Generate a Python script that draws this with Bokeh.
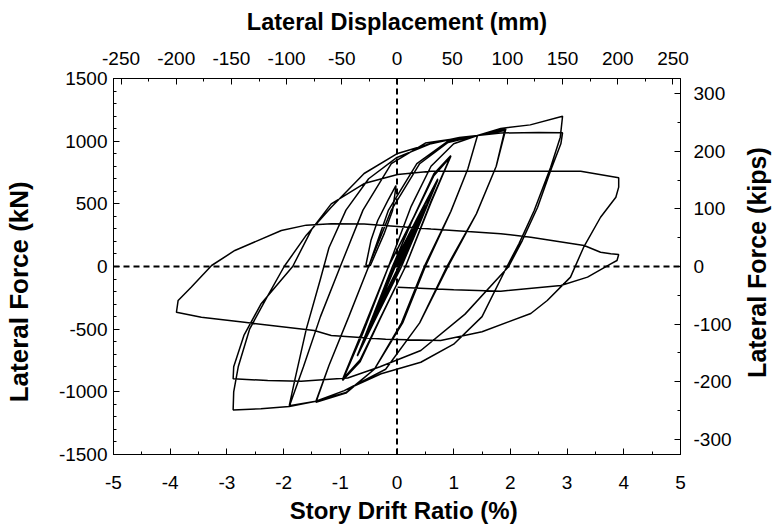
import math
from bokeh.plotting import figure
from bokeh.layouts import row
from bokeh.models import Range1d, LinearAxis, SingleIntervalTicker, Span, PrintfTickFormatter, Label
from bokeh.embed import file_html
from bokeh.resources import INLINE

# ---------------- data (story drift %, lateral force kN) ----------------
c0375_x = [0.00, 0.37, 0.03, -0.37, -0.03, 0.38, 0.03, -0.38, -0.03, 0.37, 0.03, -0.37, -0.03,
           0.38, 0.03, -0.38, -0.03, 0.37, 0.03, -0.37, -0.03, 0.38, 0.03, -0.38, -0.03]
c0375_y = [0, 355, 0, -365, 0, 365, 0, -375, 0, 350, 0, -360, 0,
           360, 0, -370, 0, 355, 0, -365, 0, 360, 0, -372, 0]

c05_x = [0.25, 0.50, 0.28, 0.05, -0.25, -0.50, -0.28, -0.05, 0.25, 0.50, 0.28, 0.05, -0.25, -0.50, -0.28, -0.05,
         0.25, 0.49, 0.28, 0.05, -0.25, -0.49, -0.28, -0.05, 0.25, 0.50, 0.28, 0.05, -0.25, -0.50, -0.28, -0.05]
c05_y = [270, 490, 250, 0, -275, -505, -255, 0, 265, 485, 245, 0, -270, -500, -250, 0,
         265, 478, 245, 0, -270, -495, -250, 0, 262, 482, 242, 0, -268, -498, -248, 0]

c075_x = [0.35, 0.72, 0.40, 0.08, -0.35, -0.70, -0.40, -0.08, 0.35, 0.72, 0.40, 0.08, -0.35, -0.69, -0.40, -0.08,
          0.35, 0.71, 0.40, 0.08, -0.35, -0.70, -0.40, -0.08, 0.35, 0.71, 0.40, 0.08, -0.35, -0.69, -0.40, -0.08]
c075_y = [380, 700, 360, 0, -390, -715, -380, 0, 380, 690, 350, 0, -390, -705, -370, 0,
          375, 685, 345, 0, -385, -710, -375, 0, 372, 680, 342, 0, -382, -700, -368, 0]

c1_x = [0.30, 0.65, 0.95, 0.60, 0.15, -0.30, -0.65, -0.96, -0.60, -0.15, 0.30, 0.65, 0.95, 0.60, 0.15, -0.30, -0.65, -0.96,
        -0.60, -0.15, 0.30, 0.65, 0.94, 0.60, 0.15, -0.30, -0.65, -0.96]
c1_y = [400, 740, 885, 520, 0, -420, -760, -910, -530, 0, 400, 730, 880, 515, 0, -420, -750, -905,
        -525, 0, 395, 725, 872, 510, 0, -415, -745, -900]

d15_x = [-0.55, -0.15, 0.25, 0.60, 1.00, 1.42, 1.25, 0.95, 0.50, 0.10, -0.40, -0.90, -1.43,
         -1.20, -0.85, -0.50, -0.10, 0.40, 0.90, 1.42, 1.25, 0.95, 0.48, 0.08, -0.40, -0.90, -1.43]
d15_y = [-450, 0, 480, 800, 980, 1045, 780, 440, 0, -450, -820, -1010, -1083,
         -790, -400, 0, 450, 820, 990, 1045, 780, 440, 0, -450, -820, -1005, -1075]

d2_x = [-1.20, -0.85, -0.50, -0.15, 0.35, 0.90, 1.42, 1.92, 1.75, 1.40, 0.90, 0.40, -0.20, -0.93, -1.43, -1.90,
        -1.65, -1.35, -1.00, -0.60, -0.10, 0.50, 1.42, 1.90, 1.75, 1.40, 0.88, 0.40, -0.20, -0.93, -1.43, -1.90]
d2_y = [-790, -400, 0, 450, 820, 1000, 1045, 1099, 800, 420, 0, -450, -820, -990, -1075, -1117,
        -800, -400, 0, 450, 820, 985, 1045, 1085, 800, 420, 0, -450, -820, -990, -1075, -1110]

d3a_x = [-1.80, -1.60, -1.35, -1.20, -0.90, -0.50, 0.00, 0.60, 1.00, 1.42, 1.83, 2.35, 2.92,
         2.88, 2.71, 2.42, 2.15, 1.94, 1.50, 1.00, 0.42, -0.28, -0.93, -1.43, -1.90, -2.40, -2.89]
d3a_y = [-900, -500, -100, 150, 450, 700, 870, 980, 1020, 1045, 1101, 1130, 1199,
         1032, 792, 447, 181, 0, -400, -620, -764, -856, -990, -1075, -1117, -1135, -1144]

d3b_x = [-2.88, -2.80, -2.60, -2.30, -1.99, -1.60, -1.16, -0.58, 0.01, 0.60, 1.10, 1.42, 1.83, 2.50, 2.92,
         2.89, 2.71, 2.48, 2.21, 1.97, 1.20, 0.42, -0.30, -0.87, -1.69, -2.28, -2.89]
d3b_y = [-1000, -800, -500, -250, 0, 250, 473, 742, 902, 981, 1030, 1045, 1065, 1070, 1067,
         979, 766, 473, 207, 0, -380, -670, -800, -890, -915, -910, -896]

d4_x = [-2.88, -2.70, -2.40, -1.84, -1.50, -1.16, -0.58, 0.01, 0.60, 1.83, 3.24, 3.91,
        3.91, 3.86, 3.59, 3.29, 3.06, 2.65, 2.36, 1.50, 0.77, -0.20, -1.16, -1.46, -2.69, -3.45, -3.89,
        -3.86, -3.63, -3.27, -2.86, -2.04, -1.60, -1.16, -0.58, 0.60, 1.83, 2.36, 3.30, 3.59, 3.77, 3.91,
        3.88, 3.77, 3.36, 2.89, 1.83, 1.00, 0.01]
d4_y = [-800, -550, -300, 0, 300, 500, 662, 734, 760, 760, 760, 708,
        633, 553, 393, 152, -85, -271, -375, -520, -590, -580, -551, -511, -445, -405, -365,
        -271, -165, 8, 128, 287, 330, 341, 340, 300, 261, 234, 168, 114, 101, 96,
        48, 21, -85, -152, -197, -185, -165]

leaf_x = [-0.55, -0.46, -0.34, -0.16, -0.02, -0.02, -0.08, -0.23, -0.41, -0.47, -0.55]
leaf_y = [8, 207, 367, 527, 646, 630, 444, 258, 71, 8, 8]

# top axis: lateral displacement (mm) per % drift; right axis: kN per kip
MM_PER_PCT = 51.36
KN_PER_KIP = 4.6

path_x = c0375_x + c05_x + c075_x + c1_x + d15_x + d2_x + d3a_x + d3b_x + d4_x
path_y = c0375_y + c05_y + c075_y + c1_y + d15_y + d2_y + d3a_y + d3b_y + d4_y

FONT = "Liberation Sans"
NB = "\u00a0"
SIDE_W = 38

p = figure(width=773 - SIDE_W, height=527, x_range=Range1d(-5, 5), y_range=Range1d(-1500, 1500),
           output_backend="svg", toolbar_location=None,
           min_border_left=112, min_border_right=93 - SIDE_W, min_border_top=78, min_border_bottom=73,
           extra_x_ranges={"mm": Range1d(-5 * MM_PER_PCT, 5 * MM_PER_PCT)},
           extra_y_ranges={"kips": Range1d(-1500 / KN_PER_KIP, 1500 / KN_PER_KIP)})
p.xgrid.visible = False
p.ygrid.visible = False
p.outline_line_color = "black"
p.outline_line_width = 1
p.background_fill_color = "white"
p.border_fill_color = "white"

bottom = p.below[0]
left = p.left[0]
bottom.ticker = SingleIntervalTicker(interval=1, num_minor_ticks=2)
bottom.axis_label = NB * 2 + "Story Drift Ratio (%)"
left.ticker = SingleIntervalTicker(interval=500, num_minor_ticks=5)
left.axis_label = "Lateral Force (kN)" + NB * 7

top = LinearAxis(x_range_name="mm", ticker=SingleIntervalTicker(interval=50, num_minor_ticks=2),
                 axis_label="Lateral Displacement (mm)")
p.add_layout(top, "above")
right = LinearAxis(y_range_name="kips", ticker=SingleIntervalTicker(interval=100, num_minor_ticks=2))
p.add_layout(right, "right")

for ax in [bottom, left, top, right]:
    ax.formatter = PrintfTickFormatter(format="%d")
    ax.axis_line_color = "black"
    ax.major_tick_line_color = "black"
    ax.minor_tick_line_color = "black"
    ax.major_tick_in = 6
    ax.major_tick_out = 0
    ax.minor_tick_in = 3
    ax.minor_tick_out = 0
    ax.major_label_text_font = FONT
    ax.major_label_text_font_size = "19px"
    ax.major_label_text_color = "black"
    ax.axis_label_text_font = FONT
    ax.axis_label_text_font_size = "24px"
    ax.axis_label_text_font_style = "bold"
    ax.axis_label_text_color = "black"

left.axis_label_text_font_size = "26px"
top.axis_label_text_font_size = "23.5px"

bottom.major_label_standoff = 21
bottom.axis_label_standoff = 5
left.major_label_standoff = 6
left.axis_label_standoff = 22
top.major_label_standoff = 14
top.axis_label_standoff = 14
right.major_label_standoff = 13

p.add_layout(Span(location=0, dimension="width", line_color="black", line_width=2, line_dash="6 4"))
p.add_layout(Span(location=0, dimension="height", line_color="black", line_width=2, line_dash="6 4"))

p.line(path_x, path_y, line_color="black", line_width=1.5)
p.line(leaf_x, leaf_y, line_color="black", line_width=1.5)

# narrow side panel carrying the right-hand axis title (reads bottom to top)
side = figure(width=SIDE_W, height=527, x_range=Range1d(0, SIDE_W), y_range=Range1d(0, 527),
              output_backend="svg", toolbar_location=None,
              x_axis_location=None, y_axis_location=None,
              min_border_left=0, min_border_right=0, min_border_top=0, min_border_bottom=0)
side.xgrid.visible = False
side.ygrid.visible = False
side.outline_line_color = None
side.background_fill_color = "white"
side.border_fill_color = "white"
side.add_layout(Label(x=21, y=527 - 258, text="Lateral Force (kips)", angle=math.pi / 2,
                      text_align="center", text_baseline="middle", text_font=FONT,
                      text_font_size="25px", text_font_style="bold", text_color="black"))

layout = row(p, side, spacing=0)
open("out.html", "w").write(file_html(layout, INLINE))
